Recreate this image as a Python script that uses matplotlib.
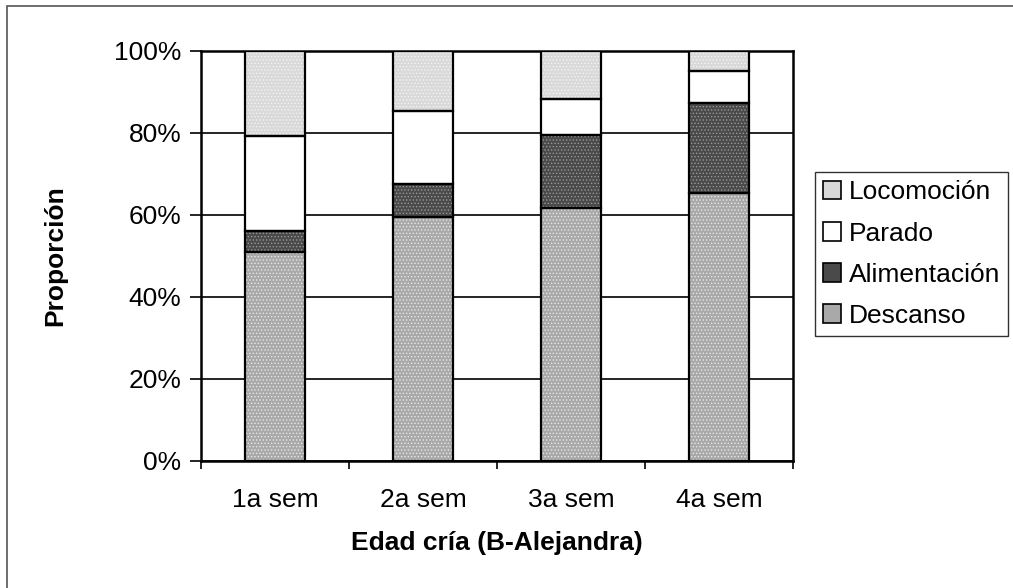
import numpy as np
import matplotlib.pyplot as plt
from matplotlib.patches import Rectangle, Patch

plt.rcParams['font.family'] = ['Liberation Sans', 'DejaVu Sans']
plt.rcParams['hatch.linewidth'] = 0.6

# data (percent)
weeks = ['1a sem', '2a sem', '3a sem', '4a sem']
descanso = [51.0, 59.5, 61.7, 65.4]
alimentacion = [5.0, 8.1, 17.8, 21.9]
parado = [23.3, 17.8, 8.8, 7.8]
locomocion = [20.7, 14.6, 11.7, 4.9]

series = [('Descanso', descanso, '#a9a9a9', '#e6e6e6'),
          ('Alimentación', alimentacion, '#4a4a4a', '#9a9a9a'),
          ('Parado', parado, 'white', 'white'),
          ('Locomoción', locomocion, '#d9d9d9', '#f2f2f2')]

fs = 19

fig = plt.figure(figsize=(10.13, 5.88), dpi=100)
ax = fig.add_axes([0.1984, 0.2165, 0.5844, 0.6973])

x = np.arange(len(weeks))
bottom = np.zeros(len(weeks))
handles = []
for name, vals, face, dots in series:
    # dotted fill, then black outline on top
    ax.bar(x, vals, 0.4, bottom=bottom, color=face, hatch='.....',
           edgecolor=dots, linewidth=0, zorder=3)
    ax.bar(x, vals, 0.4, bottom=bottom, fill=False, edgecolor='black',
           linewidth=1.6, zorder=4)
    bottom += np.array(vals)
    handles.append(Patch(facecolor=face, edgecolor='black', linewidth=1.2,
                         label=name))

ax.set_xlim(-0.5, 3.5)
ax.set_ylim(0, 100)
ax.set_yticks(range(0, 101, 20))
ax.set_yticklabels([f'{v}%' for v in range(0, 101, 20)], fontsize=fs)
ax.set_xticks(x)
ax.set_xticklabels(weeks, fontsize=fs)
ax.set_xticks(np.arange(-0.5, 4.0, 1.0), minor=True)
ax.tick_params(axis='x', which='major', length=0, pad=20)
ax.tick_params(axis='x', which='minor', length=6, width=1.2, direction='out')
ax.tick_params(axis='y', length=8, width=1.2, direction='out', pad=6)
ax.grid(axis='y', color='black', linewidth=1.2, zorder=1)
ax.set_axisbelow(True)
for s in ax.spines.values():
    s.set_linewidth(1.8)

ax.set_ylabel('Proporción', fontsize=fs, fontweight='bold', labelpad=34)
ax.set_xlabel('Edad cría (B-Alejandra)', fontsize=fs, fontweight='bold',
              labelpad=13)

leg = ax.legend(handles=handles[::-1], loc='upper left',
                bbox_to_anchor=(1.037, 0.703), fontsize=fs, frameon=True,
                fancybox=False, edgecolor='black', handlelength=0.7,
                handleheight=0.7, handletextpad=0.3, labelspacing=0.65,
                borderpad=0.3, borderaxespad=0)
leg.get_frame().set_linewidth(1.0)

# outer chart border (right and bottom edges fall off the picture)
fig.patches.append(Rectangle((7 / 1013, -0.05), 1.1, 1 - 6 / 588 + 0.05,
                             transform=fig.transFigure, fill=False,
                             edgecolor='#555555', linewidth=1.2))

fig.savefig('out.png', dpi=100)
